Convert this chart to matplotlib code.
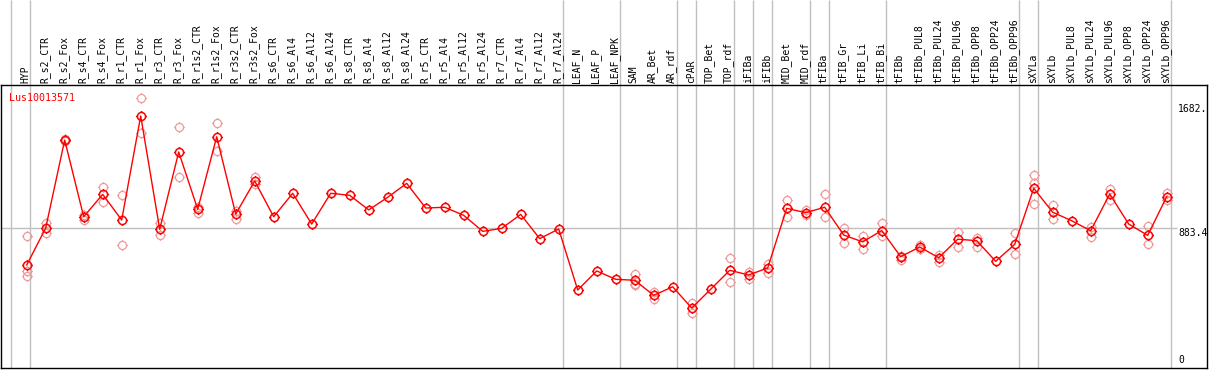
import numpy as np
import matplotlib
matplotlib.use("Agg")
import matplotlib.pyplot as plt
from matplotlib.path import Path

# sample labels, one per column
labels = ["HYP", "R_s2_CTR", "R_s2_Fox", "R_s4_CTR", "R_s4_Fox", "R_r1_CTR", "R_r1_Fox",
          "R_r3_CTR", "R_r3_Fox", "R_r1s2_CTR", "R_r1s2_Fox", "R_r3s2_CTR", "R_r3s2_Fox",
          "R_s6_CTR", "R_s6_Al4", "R_s6_Al12", "R_s6_Al24", "R_s8_CTR", "R_s8_Al4",
          "R_s8_Al12", "R_s8_Al24", "R_r5_CTR", "R_r5_Al4", "R_r5_Al12", "R_r5_Al24",
          "R_r7_CTR", "R_r7_Al4", "R_r7_Al12", "R_r7_Al24", "LEAF_N", "LEAF_P", "LEAF_NPK",
          "SAM", "AR_Bet", "AR_rdf", "cPAR", "TOP_Bet", "TOP_rdf", "iFIBa", "iFIBb",
          "MID_Bet", "MID_rdf", "tFIBa", "tFIB_Gr", "tFIB_Li", "tFIB_Bi", "tFIBb",
          "tFIBb_PUL8", "tFIBb_PUL24", "tFIBb_PUL96", "tFIBb_OPP8", "tFIBb_OPP24",
          "tFIBb_OPP96", "sXYLa", "sXYLb", "sXYLb_PUL8", "sXYLb_PUL24", "sXYLb_PUL96",
          "sXYLb_OPP8", "sXYLb_OPP24", "sXYLb_OPP96"]

# mean expression per column
means = [645, 883, 1450, 956, 1100, 935, 1605, 875, 1373, 1004, 1471, 973, 1186,
         956, 1107, 909, 1107, 1094, 1000, 1081, 1171, 1012, 1017, 965, 862, 881,
         971, 815, 877, 484, 607, 553, 547, 450, 505, 368, 489, 611, 581, 626,
         1010, 982, 1017, 838, 794, 867, 699, 761, 692, 811, 802, 669, 778,
         1139, 985, 930, 866, 1102, 909, 836, 1085]

# replicate values (empty where they sit on the mean)
reps = [[832, 609, 574], [913, 853], [1455, 1445], [967, 935], [1147, 1053],
        [1094, 774], [1718, 1493], [913, 836], [1532, 1210], [1021, 982],
        [1562, 1377], [995, 943], [1210, 1167],
        [], [], [], [], [], [], [], [], [], [], [], [], [], [], [], [],
        [], [], [],
        [587, 523, 514], [471, 428], [], [399, 338], [], [692, 534],
        [602, 557], [650, 596], [1064, 956], [999, 965], [1102, 956],
        [881, 789], [834, 746], [913, 834], [706, 677], [774, 750],
        [707, 666], [858, 763], [821, 763], [], [849, 714],
        [1225, 1171, 1036], [1032, 939], [], [892, 827], [1137, 1064],
        [], [896, 778], [1111, 1064]]

# columns after which a group separator is drawn
group_ends = [-1, 0, 28, 31, 34, 35, 37, 38, 39, 41, 42, 45, 52, 53, 60]

gene = "Lus10013571"
y_max = 1682.
y_mid = 883.4

# circle with four little ticks
circ = Path.unit_circle()
ticks = Path([(0, 1), (0, 1.3), (0, -1), (0, -1.3), (1, 0), (1.3, 0), (-1, 0), (-1.3, 0)],
             [Path.MOVETO, Path.LINETO] * 4)
marker = Path.make_compound_path(circ, ticks)

W, H = 1209, 370
fig = plt.figure(figsize=(W / 100, H / 100), dpi=100)
ax = fig.add_axes([1 / W, 2 / H, 1205.7 / W, 283 / H])
ax.set_xlim(-1.3526, 62.105)
ax.set_ylim(-18.0, 1804.2)
ax.set_xticks([])
ax.set_yticks([])
for s in ax.spines.values():
    s.set_color("black")
    s.set_linewidth(1.0)

x = np.arange(len(labels))
mono = "DejaVu Sans Mono"

# separators run through the label area too
ax.vlines(np.array(group_ends) + 0.2, -18, 2352, colors="#c0c0c0", lw=1.0, clip_on=False, zorder=1)
ax.hlines(y_mid, -1.4, 60.54, colors="#c0c0c0", lw=1.0, zorder=1)

for i, r in enumerate(reps):
    if r:
        ax.plot([i] * len(r), r, ls="none", marker=marker, ms=7.6, mfc="none",
                mec="#ee9a9a", mew=0.9, zorder=2, clip_on=False)

ax.plot(x, means, color="#ff0000", lw=1.0, zorder=3)
ax.plot(x, means, ls="none", marker=marker, ms=7.6, mfc="none", mec="#ff0000",
        mew=1.1, zorder=4)

for i, lab in enumerate(labels):
    ax.text(i - 0.05, 1804.2 + 12, lab, rotation=90, ha="center", va="bottom",
            fontsize=7, family=mono, clip_on=False)

ax.text(-0.93, 1720, gene, color="#ff0000", fontsize=7.2, family=mono, va="center", ha="left")
ax.text(60.59, y_max, "1682.", fontsize=7, family=mono, va="top", ha="left")
ax.text(60.59, y_mid, "883.4", fontsize=7, family=mono, va="top", ha="left")
ax.text(60.64, 0, "0", fontsize=7, family=mono, va="bottom", ha="left")

fig.savefig("out.png", dpi=100)
